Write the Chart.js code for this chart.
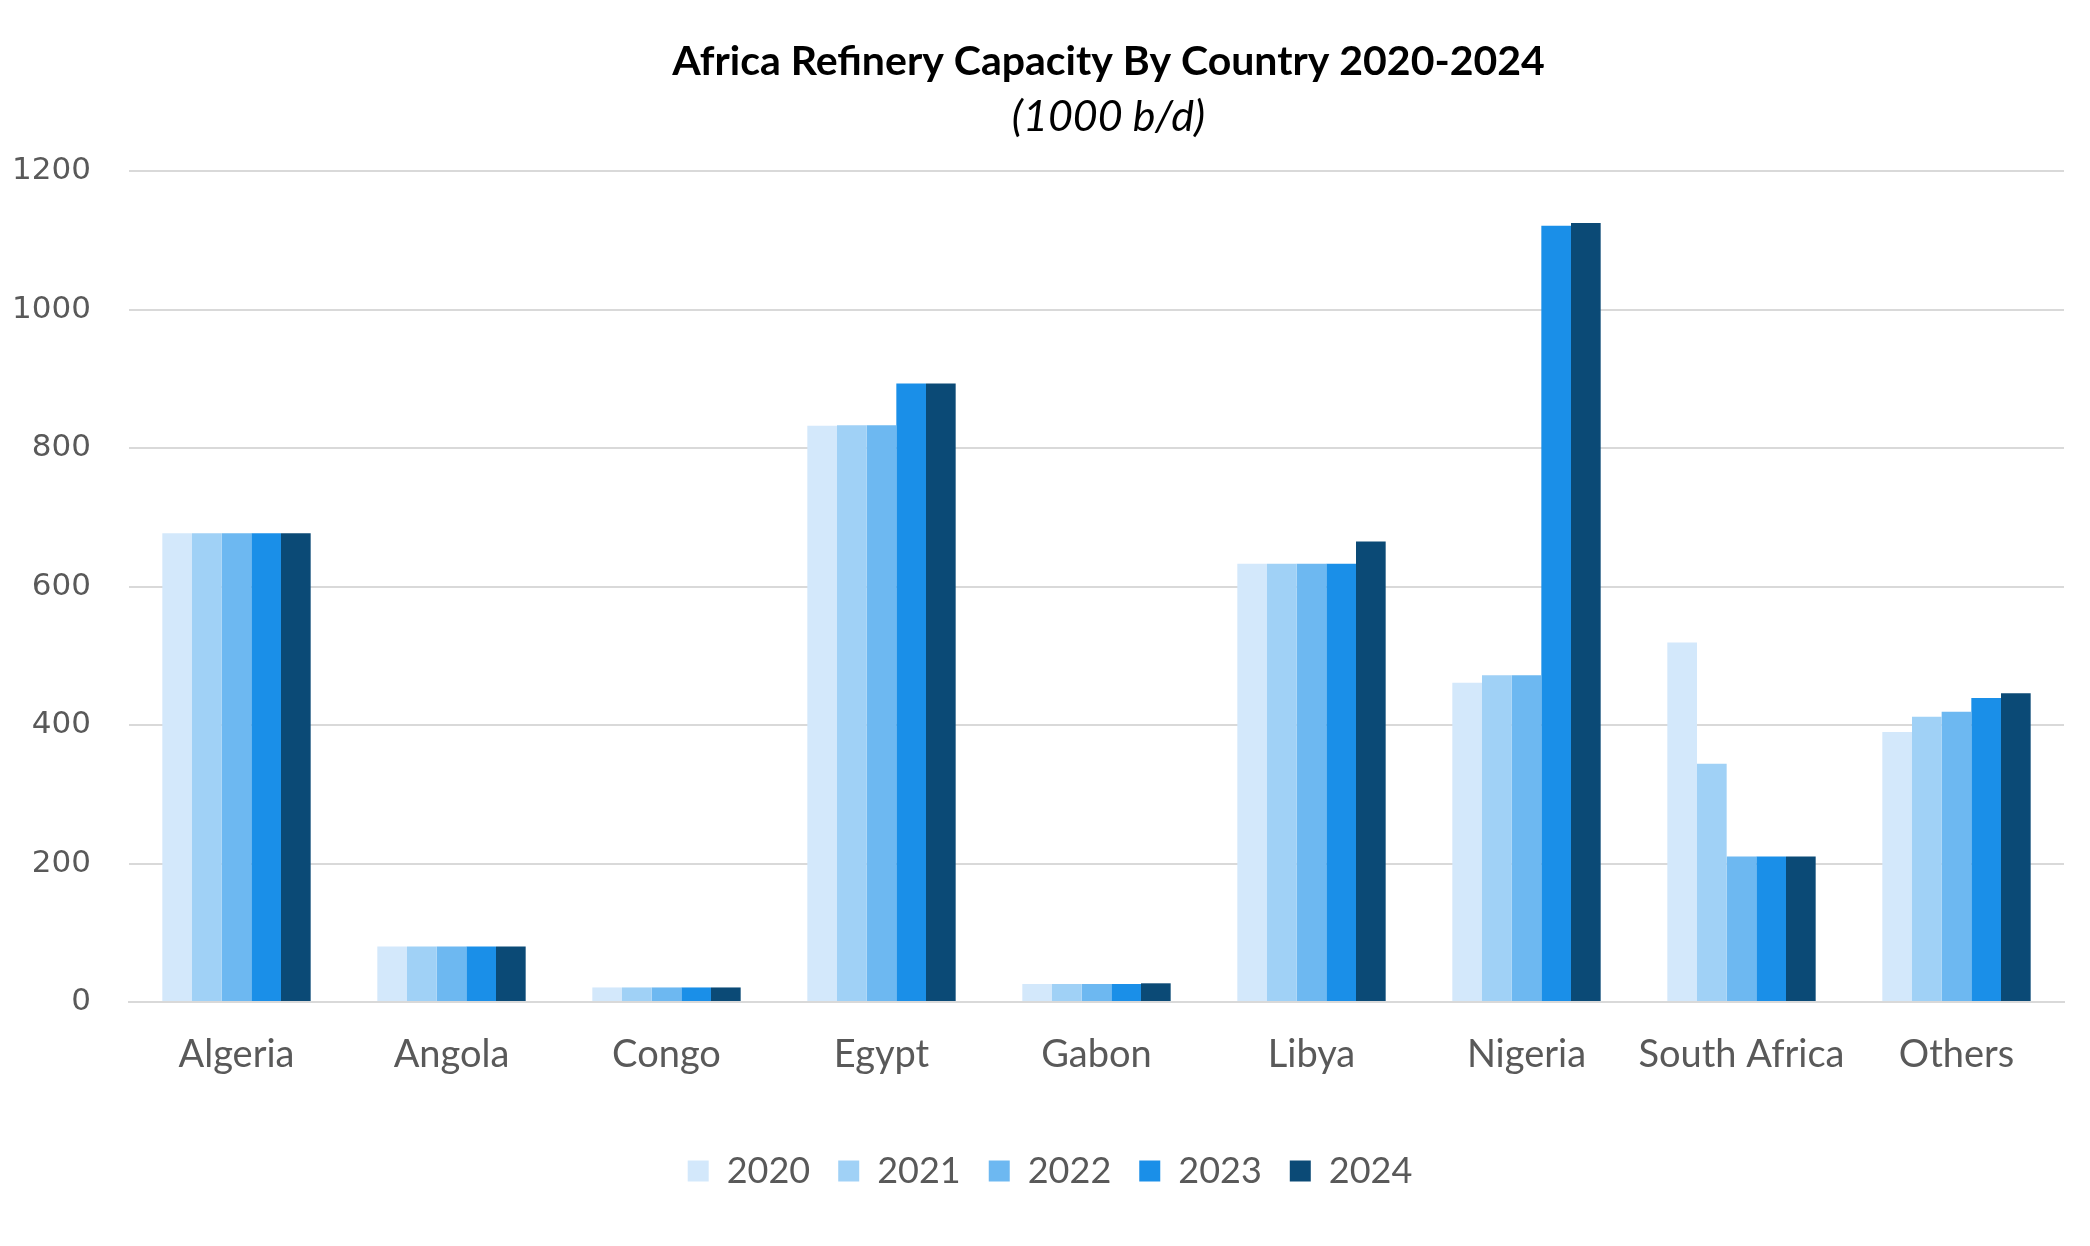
<!DOCTYPE html>
<html>
<head>
<meta charset="utf-8">
<title>Africa Refinery Capacity By Country 2020-2024</title>
<script src="https://cdn.jsdelivr.net/npm/chart.js@4/dist/chart.umd.min.js"></script>
<style>
  html, body { margin: 0; padding: 0; background: #fff; }
  #wrap { width: 2090px; height: 1246px; }
</style>
</head>
<body>
<div id="wrap"><canvas id="grafico" width="2090" height="1246"></canvas></div>
<script>
const countries = ['Algeria', 'Angola', 'Congo', 'Egypt', 'Gabon', 'Libya', 'Nigeria', 'South Africa', 'Others'];
const years = ['2020', '2021', '2022', '2023', '2024'];
const cap2020 = [677, 80, 21, 832, 26, 633, 461, 519, 390];
const cap2021 = [677, 80, 21, 833, 26, 633, 472, 344, 412];
const cap2022 = [677, 80, 21, 833, 26, 633, 472, 210, 419];
const cap2023 = [677, 80, 21, 893, 26, 633, 1121, 210, 439];
const cap2024 = [677, 80, 21, 893, 27, 665, 1125, 210, 446];
const colors = ['#d3e8fb', '#a0d1f6', '#6db8f1', '#1a8fe8', '#0b4a76'];

const series = [cap2020, cap2021, cap2022, cap2023, cap2024];
const grey = '#595959';

// title drawn over the plot, slightly right of centre like the original
const titlePlugin = {
    id: 'topTitle',
    afterLayout(chart) {
        // nudge legend a bit to the right
        chart.legend.left += 18;
        chart.legend.right += 18;
    },
    afterDraw(chart) {
        const c = chart.ctx;
        const x = (chart.chartArea.left + chart.chartArea.right) / 2 + 12;
        c.save();
        c.fillStyle = '#000';
        c.textAlign = 'center';
        c.textBaseline = 'middle';
        c.font = 'bold 41px Lato';
        c.fillText('Africa Refinery Capacity By Country 2020-2024', x, 62);
        c.font = 'italic 43px Lato';
        c.fillText('(1000 b/d)', x, 117);
        c.restore();
    }
};

document.addEventListener("DOMContentLoaded", function () {
    const ctx = document.getElementById('grafico').getContext('2d');
    new Chart(ctx, {
        type: 'bar',
        data: {
            labels: countries,
            datasets: years.map((y, i) => ({
                label: y,
                data: series[i],
                backgroundColor: colors[i],
                borderWidth: 0,
                categoryPercentage: 0.69,
                barPercentage: 1.0
            }))
        },
        options: {
            responsive: false,
            animation: false,
            layout: { padding: { top: 171, right: 26, bottom: 47, left: 0 } },
            plugins: {
                title: { display: false },
                tooltip: { enabled: false },
                legend: {
                    position: 'bottom',
                    labels: {
                        color: grey,
                        font: { family: 'Lato', size: 36 },
                        boxWidth: 21,
                        boxHeight: 21,
                        padding: 28
                    }
                }
            },
            scales: {
                x: {
                    grid: { display: false },
                    border: { display: true, color: '#d9d9d9', width: 2 },
                    ticks: {
                        color: grey,
                        font: { family: 'Lato', size: 38 },
                        padding: 22,
                        maxRotation: 0
                    },
                    afterFit(scale) { scale.height = 123; }
                },
                y: {
                    min: 0,
                    max: 1200,
                    ticks: {
                        stepSize: 200,
                        color: grey,
                        font: { family: 'DejaVu Sans', size: 31 },
                        padding: 38,
                        callback: v => String(v)
                    },
                    grid: { color: '#d9d9d9', lineWidth: 2, drawTicks: false },
                    border: { display: false },
                    afterFit(scale) { scale.width = 129; }
                }
            }
        },
        plugins: [titlePlugin]
    });
});
</script>
</body>
</html>
